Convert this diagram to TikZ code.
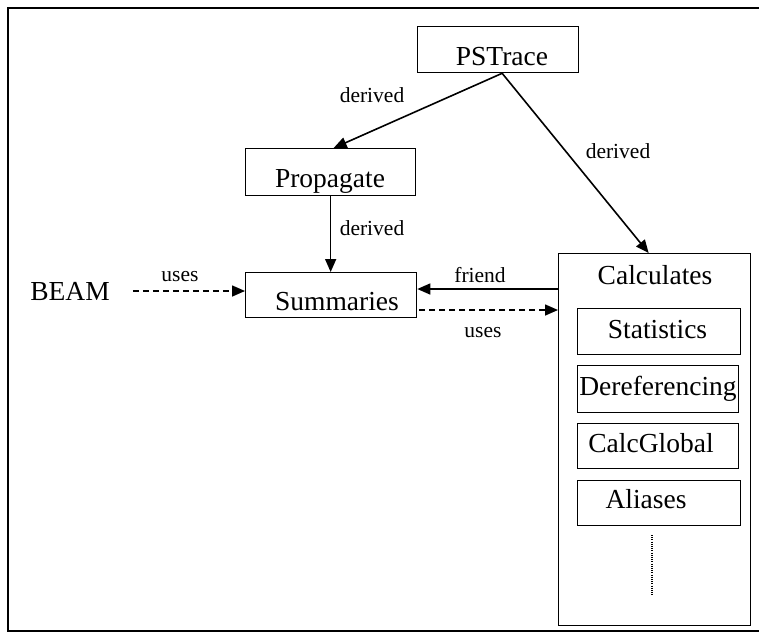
\documentclass[tikz,border=0pt]{standalone}
\usepackage{fontspec}
\setmainfont{Liberation Serif}
\usetikzlibrary{arrows.meta}
\begin{document}
\begin{tikzpicture}[x=1pt,y=-1pt,
  box/.style={draw, line width=1.3pt, rectangle, inner sep=0pt, anchor=north west},
  txt/.style={inner sep=0pt, anchor=base, font=\fontsize{27.5}{30}\selectfont},
  lbl/.style={inner sep=0pt, anchor=base, font=\fontsize{21.5}{24}\selectfont},
  arr/.style={line width=1.6pt, -{Triangle[length=13pt,width=11pt]}},
  darr/.style={arr, dash pattern=on 6pt off 4pt}
]
\useasboundingbox (0,0) rectangle (759,633);
% frame
\draw[line width=1.2pt] (759,8) -- (8,8) -- (8,631) -- (759,631);

% boxes
\node[box, minimum width=161pt, minimum height=46pt] (ps) at (417,26) {};
\node[box, minimum width=170pt, minimum height=47pt] (prop) at (245,148) {};
\node[box, minimum width=171pt, minimum height=45pt] (summ) at (245,272) {};
\node[box, minimum width=192pt, minimum height=372pt] (calc) at (558,253) {};
\node[box, minimum width=163pt, minimum height=46pt] (stat) at (577,308) {};
\node[box, minimum width=161pt, minimum height=47pt] (deref) at (577,365) {};
\node[box, minimum width=161pt, minimum height=45pt] (cglob) at (577,423) {};
\node[box, minimum width=163pt, minimum height=45pt] (alias) at (577,480) {};

% texts
\node[txt] (tps) at (502,65) {PSTrace};
\node[txt] (tprop) at (330,187) {Propagate};
\node[txt] (tsumm) at (337,310) {Summaries};
\node[txt] (beam) at (70,300) {BEAM};
\node[txt] (tcalc) at (655,284) {Calculates};
\node[txt] (tstat) at (657.5,338) {Statistics};
\node[txt] (tderef) at (658,395) {Dereferencing};
\node[txt] (tcglob) at (651,452) {CalcGlobal};
\node[txt] (talias) at (646,508) {Aliases};

% dotted continuation
\coordinate (d1) at (652,535);
\coordinate (d2) at (652,595);
\draw[line width=1.3pt, dash pattern=on 1pt off 1.2pt] (d1) -- (d2);

% connector helper coordinates
\coordinate (fr) at (0,289);
\coordinate (us) at (0,310);
\coordinate (bm) at (0,291);

% connectors
\draw[arr] ([xshift=4pt]ps.south) -- ([xshift=3pt]prop.north);
\draw[arr] ([xshift=4pt]ps.south) -- ([xshift=-6pt]calc.north);
\draw[arr] (prop.south) -- (prop.south |- summ.north);
\draw[arr] (calc.west |- fr) -- (summ.east |- fr);
\draw[darr] ([xshift=2pt]summ.east |- us) -- (calc.west |- us);
\draw[darr] ([xshift=23pt]beam.east |- bm) -- (summ.west |- bm);

% labels
\node[lbl] (l1) at (372,102) {derived};
\node[lbl] (l2) at (618,158) {derived};
\node[lbl] (l3) at (372,235) {derived};
\node[lbl] (l4) at (480,282) {friend};
\node[lbl] (l5) at (483,337) {uses};
\node[lbl] (l6) at (180,281) {uses};
\end{tikzpicture}
\end{document}
